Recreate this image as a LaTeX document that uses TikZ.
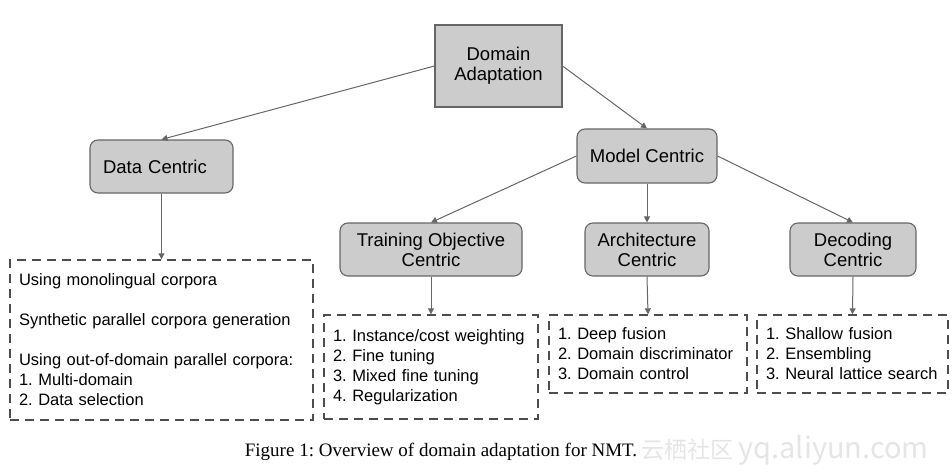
\documentclass[tikz,border=0pt]{standalone}
\usepackage{fontspec}
\setmainfont{Liberation Sans}
\newfontfamily\capfont{Liberation Serif}
\newfontfamily\cjk{Noto Sans CJK SC}
\usetikzlibrary{arrows.meta}
\definecolor{boxfill}{HTML}{CCCCCC}
\definecolor{boxline}{HTML}{666666}
\definecolor{dashline}{HTML}{4D4D4D}
\frenchspacing

\begin{document}
\begin{tikzpicture}[x=1pt, y=-1pt,
    box/.style={draw=boxline, fill=boxfill, line width=1.1pt, align=center, inner sep=0pt, font=\fontsize{18.5}{20}\selectfont},
    rbox/.style={box, rounded corners=8pt},
    list/.style={draw=dashline, dash pattern=on 9pt off 6pt, line width=1.4pt, align=left, inner xsep=9pt, inner ysep=0pt, font=\fontsize{16.5}{20}\selectfont},
    arr/.style={draw=boxline, line width=1pt, -{Triangle[length=6pt, width=6pt]}}]
\useasboundingbox (0,0) rectangle (952,472);

\node[box, minimum width=127, minimum height=82] (da) at (498.5,66) {Domain\\Adaptation};
\node[rbox, minimum height=53, text width=117, inner xsep=13pt, align=left] (data) at (161.5,166.5) {Data Centric};
\node[rbox, minimum width=140, minimum height=54] (model) at (647,156) {Model Centric};
\node[rbox, minimum width=182, minimum height=53] (train) at (431,249.5) {Training Objective\\Centric};
\node[rbox, minimum width=124, minimum height=53] (arch) at (647,249.5) {Architecture\\Centric};
\node[rbox, minimum width=126, minimum height=53] (dec) at (853,249.5) {Decoding\\Centric};

\node[list, text width=285, minimum height=160] (b1) at (161.5,340) {Using monolingual corpora\\[20pt]Synthetic parallel corpora generation\\[20pt]Using out-of-domain parallel corpora:\\1. Multi-domain\\2. Data selection};
\node[list, text width=196, minimum height=104] (b2) at (431,367) {1. Instance/cost weighting\\2. Fine tuning\\3. Mixed fine tuning\\4. Regularization};
\node[list, text width=180, minimum height=78] (b3) at (648,354) {1. Deep fusion\\2. Domain discriminator\\3. Domain control};
\node[list, text width=173, minimum height=78] (b4) at (852.5,354) {1. Shallow fusion\\2. Ensembling\\3. Neural lattice search};

\draw[arr] (da.west) -- (data.north);
\draw[arr] (da.east) -- (model.north);
\draw[arr] (model.west) -- (train.north);
\draw[arr] (model.south) -- (arch.north);
\draw[arr] (model.east) -- (dec.north);
\draw[arr] (data.south) -- (b1.north);
\draw[arr] (train.south) -- (b2.north);
\draw[arr] (arch.south) -- (b3.north);
\draw[arr] (dec.south) -- (b4.north);

\node[font=\capfont\fontsize{19}{19}\selectfont] (cap) at (441,452) {Figure 1: Overview of domain adaptation for NMT.};
\node[text=gray!20, font=\cjk\fontsize{23}{23}\selectfont] (wm) at (785,450) {云栖社区 {\fontsize{29}{29}\selectfont yq.aliyun.com}};
\end{tikzpicture}
\end{document}
